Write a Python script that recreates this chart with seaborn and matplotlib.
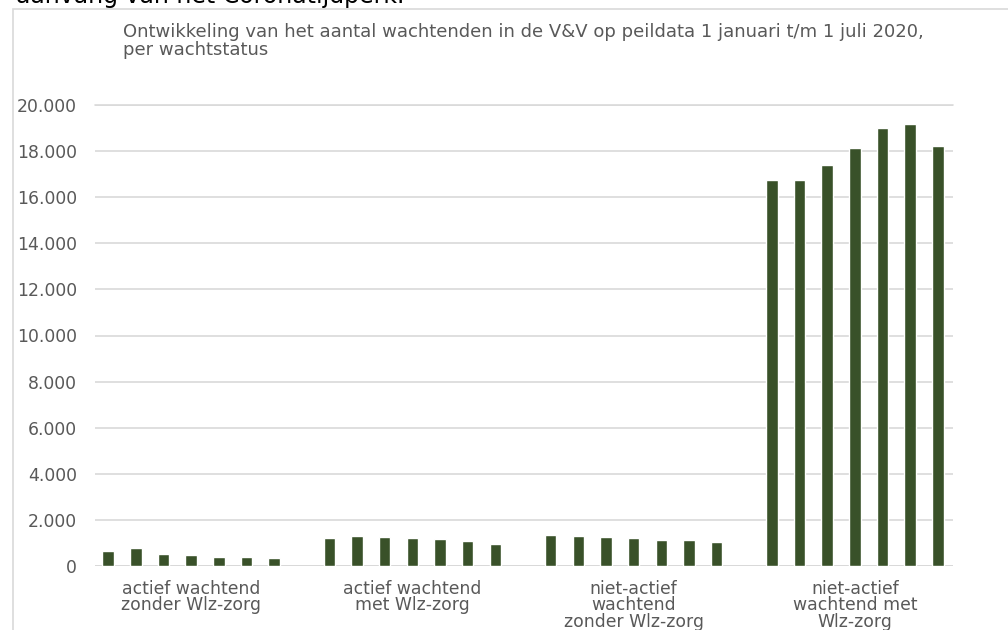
import matplotlib
matplotlib.use("Agg")
import matplotlib.pyplot as plt
import matplotlib.patches as mpatches
import seaborn as sns
import pandas as pd

# wachtstatus categories and peildata (1st of each month, 2020)
categories = ["actief wachtend\nzonder Wlz-zorg",
              "actief wachtend\nmet Wlz-zorg",
              "niet-actief\nwachtend\nzonder Wlz-zorg",
              "niet-actief\nwachtend met\nWlz-zorg"]
months = ["1 jan", "1 feb", "1 mrt", "1 apr", "1 mei", "1 jun", "1 jul"]

actief_zonder = [670, 800, 500, 470, 400, 400, 345]
actief_met = [1215, 1285, 1255, 1215, 1185, 1085, 975]
nietactief_zonder = [1360, 1290, 1260, 1215, 1130, 1130, 1060]
nietactief_met = [16730, 16730, 17390, 18130, 18990, 19170, 18230]

yticks = list(range(0, 20001, 2000))

rows = []
for cat, vals in zip(categories, [actief_zonder, actief_met, nietactief_zonder, nietactief_met]):
    for m, v in zip(months, vals):
        rows.append({"status": cat, "peildatum": m, "aantal": v})
df = pd.DataFrame(rows)

sns.set_style("white")
plt.rcParams['font.family'] = ['DejaVu Sans']

fig = plt.figure(figsize=(10.08, 6.3), dpi=100)
ax = fig.add_axes([95 / 1008, 1 - 566 / 630, (953 - 95) / 1008, (566 - 105) / 630])

green = "#385723"
sns.barplot(data=df, x="status", y="aantal", hue="peildatum",
            palette=[green] * len(months), width=0.875, gap=0.58,
            legend=False, ax=ax, zorder=3)

ax.set_xlim(-0.434, 3.443)
ax.set_ylim(0, 20000)
ax.set_yticks(yticks)
ax.set_yticklabels([f"{t:,}".replace(",", ".") for t in yticks])
ax.yaxis.grid(True, color="#d9d9d9", linewidth=1.2, zorder=0)
ax.set_axisbelow(True)
for s in ax.spines.values():
    s.set_visible(False)
ax.axhline(20000, color="#d9d9d9", linewidth=1.2, clip_on=False, zorder=0)
ax.axhline(0, color="#d9d9d9", linewidth=1.4, zorder=1)
ax.set_xlabel("")
ax.set_ylabel("")
ax.tick_params(axis="y", length=0, pad=13, labelsize=12.4, labelcolor="#595959")
ax.tick_params(axis="x", length=0, pad=10, labelsize=12.4, labelcolor="#595959")
for lbl in ax.get_xticklabels():
    lbl.set_linespacing(0.88)

# chart frame
fig.patches.append(mpatches.Rectangle((13 / 1008, -0.01), 1.0, 1 - 9 / 630 + 0.01,
                                      transform=fig.transFigure, fill=False,
                                      edgecolor="#d9d9d9", linewidth=1.2))

title_color = "#595959"
fig.text(123 / 1008, 1 - 37 / 630,
         "Ontwikkeling van het aantal wachtenden in de V&V op peildata 1 januari t/m 1 juli 2020,",
         fontsize=13.0, color=title_color, ha="left", va="baseline")
fig.text(123 / 1008, 1 - 55 / 630, "per wachtstatus",
         fontsize=13.0, color=title_color, ha="left", va="baseline")

fig.text(16 / 1008, 1 - 3.5 / 630, "aanvang van het Coronatijdperk.",
         fontsize=17, color="black", ha="left", va="baseline")

fig.savefig("out.png", dpi=100)
